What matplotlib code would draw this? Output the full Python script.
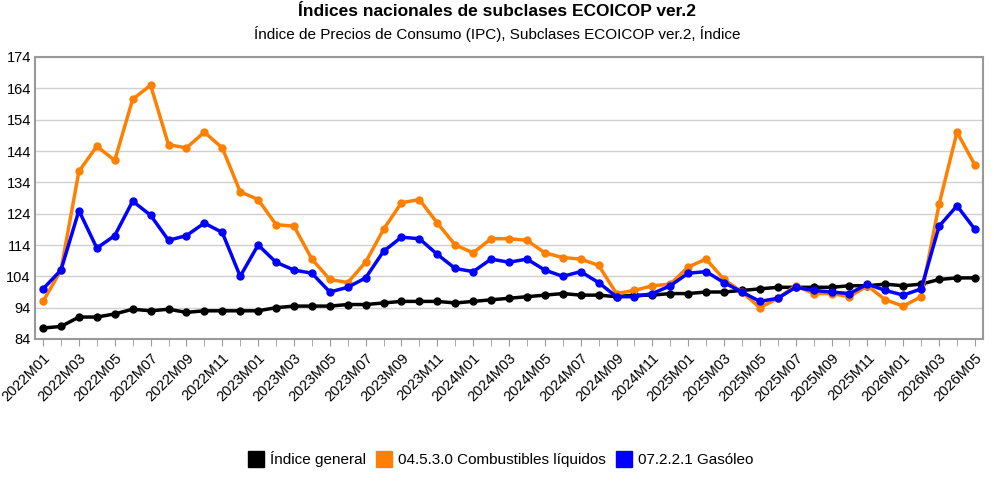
import matplotlib.pyplot as plt
from matplotlib.lines import Line2D

months = [f"{y}M{m:02d}" for y in range(2022, 2027) for m in range(1, 13)][:53]

general = [87.5, 88, 91, 91, 92, 93.5, 93, 93.5, 92.5, 93,
           93, 93, 93, 94, 94.5, 94.5, 94.5, 95, 95, 95.5,
           96, 96, 96, 95.5, 96, 96.5, 97, 97.5, 98, 98.5,
           98, 98, 97.5, 98, 98, 98.5, 98.5, 99, 99, 99.5,
           100, 100.5, 100.5, 100.5, 100.5, 101, 101, 101.5, 101, 101.5,
           103, 103.5, 103.5]
combustibles = [96, 106, 137.5, 145.5, 141, 160.5, 165, 146, 145, 150,
                145, 131, 128.5, 120.5, 120, 109.5, 103, 102, 108.5, 119,
                127.5, 128.5, 121, 114, 111.5, 116, 116, 115.5, 111.5, 110,
                109.5, 107.5, 98.5, 99.5, 101, 101.5, 107, 109.5, 103, 99,
                94, 97, 101, 98.5, 98.5, 97.5, 101, 96.5, 94.5, 97.5,
                127, 150, 139.5]
gasoleo = [100, 106, 125, 113, 117, 128, 123.5, 115.5, 117, 121,
           118, 104, 114, 108.5, 106, 105, 99, 100.5, 103.5, 112,
           116.5, 116, 111, 106.5, 105.5, 109.5, 108.5, 109.5, 106, 104,
           105.5, 102, 97.5, 97.5, 98.5, 101, 105, 105.5, 102, 99,
           96, 97, 100.5, 99.5, 99, 98.5, 101.5, 99.5, 98, 100,
           120, 126.5, 119]

series = [
    ("Índice general", general, "#000000"),
    ("04.5.3.0 Combustibles líquidos", combustibles, "#FF8000"),
    ("07.2.2.1 Gasóleo", gasoleo, "#0000FF"),
]

plt.rcParams["font.family"] = ["Liberation Sans", "DejaVu Sans"]
fig = plt.figure(figsize=(9.94, 4.86), dpi=100)
ax = fig.add_axes([35 / 994, 1 - 339 / 486, 948 / 994, 282 / 486])

x = list(range(len(months)))
for name, vals, col in series:
    ax.plot(x, vals, color=col, linewidth=2.5, marker="o", markersize=5, label=name)

ax.set_xlim(-0.45, 52.45)
ax.set_ylim(84, 174)
ax.set_yticks(range(84, 175, 10))
ax.set_xticks(x, minor=True)
ax.set_xticks(x[::2])
ax.set_xticklabels(months[::2], rotation=45, ha="right", rotation_mode="anchor", fontsize=10.5)
ax.tick_params(axis="y", labelsize=10.5, length=0, pad=3)
ax.tick_params(axis="x", which="both", length=5, color="#999999", direction="out")
ax.grid(axis="y", color="#d0d0d0", linewidth=1)
for s in ax.spines.values():
    s.set_color("#999999")
    s.set_linewidth(1.5)
ax.set_axisbelow(True)

fig.text(0.5, 1 - 12 / 486, "Índices nacionales de subclases ECOICOP ver.2",
         ha="center", va="center", fontsize=12.5, fontweight="bold")
fig.text(0.5, 1 - 34 / 486, "Índice de Precios de Consumo (IPC), Subclases ECOICOP ver.2, Índice",
         ha="center", va="center", fontsize=11)

handles = [Line2D([], [], color=c, marker="s", linestyle="none", markersize=12) for _, _, c in series]
fig.legend(handles, [n for n, _, _ in series], loc="center", bbox_to_anchor=(0.5, 1 - 459 / 486),
           ncol=3, frameon=False, fontsize=11, handletextpad=-0.1, columnspacing=0.2)

fig.savefig("out.png", dpi=100)
